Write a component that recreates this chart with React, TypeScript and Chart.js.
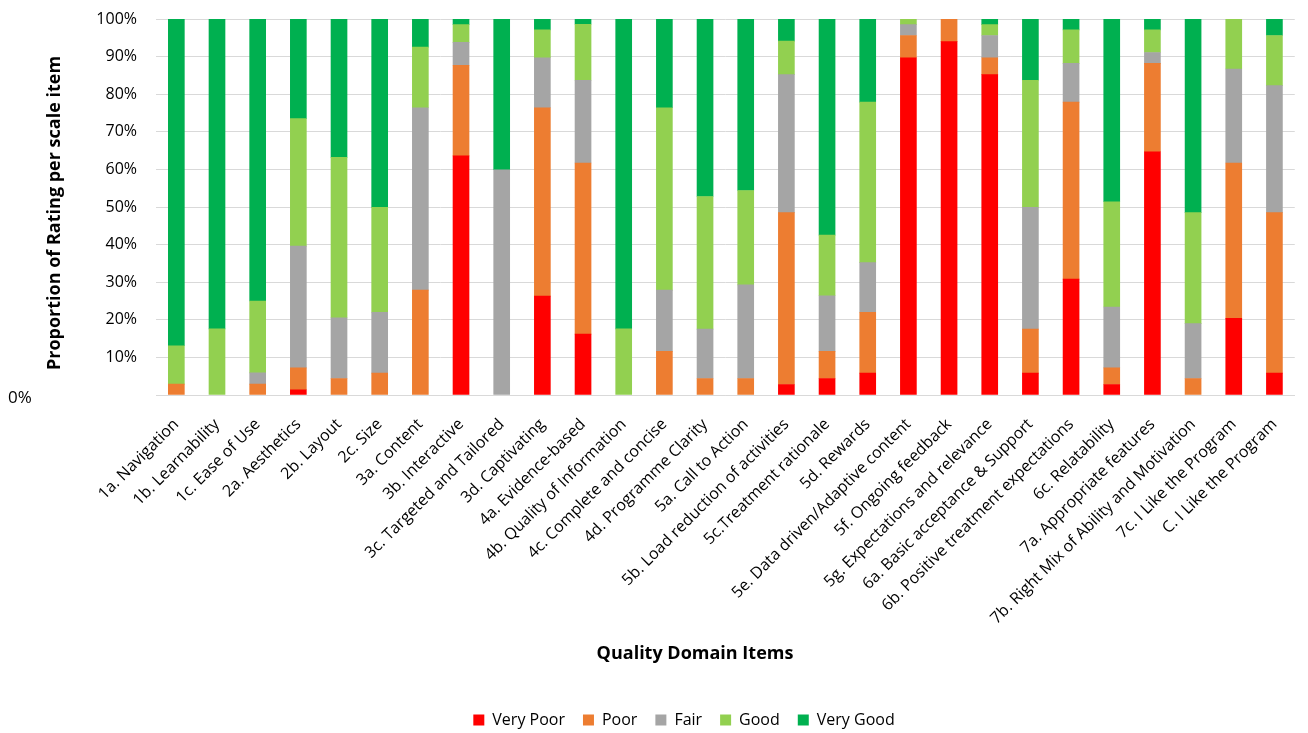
import React, { useEffect, useRef } from "react";
import { Chart, registerables } from "chart.js";

Chart.register(...registerables);

const categories = [
  "1a. Navigation",
  "1b. Learnability",
  "1c. Ease of Use",
  "2a. Aesthetics",
  "2b. Layout",
  "2c. Size",
  "3a. Content",
  "3b. Interactive",
  "3c. Targeted and Tailored",
  "3d. Captivating",
  "4a. Evidence-based",
  "4b. Quality of Information",
  "4c. Complete and concise",
  "4d. Programme Clarity",
  "5a. Call to Action",
  "5b. Load reduction of activities",
  "5c.Treatment rationale",
  "5d. Rewards",
  "5e. Data driven/Adaptive content",
  "5f. Ongoing feedback",
  "5g. Expectations and relevance",
  "6a. Basic acceptance & Support",
  "6b. Positive treatment expectations",
  "6c. Relatability",
  "7a. Appropriate features",
  "7b. Right Mix of Ability and Motivation",
  "7c. I Like the Program",
  "C. I Like the Program",
];

const veryPoor = [0, 0, 0, 1.4, 0, 0, 0, 63.6, 0, 26.3, 16.2, 0, 0, 0, 0, 2.8, 4.4, 5.8, 89.7, 94.0, 85.2, 5.8, 30.8, 2.8, 64.7, 0, 20.4, 5.8];
const poor = [2.9, 0, 2.9, 5.8, 4.4, 5.8, 27.9, 24.1, 0, 50.1, 45.5, 0, 11.6, 4.4, 4.4, 45.7, 7.2, 16.2, 5.9, 6.0, 4.5, 11.7, 47.1, 4.4, 23.5, 4.4, 41.3, 42.7];
const fair = [0, 0, 3.0, 32.4, 16.1, 16.2, 48.5, 6.1, 59.9, 13.3, 22.0, 0, 16.3, 13.1, 24.9, 36.7, 14.8, 13.2, 2.9, 0, 5.9, 32.4, 10.3, 16.2, 2.9, 14.6, 25.0, 33.8];
const good = [10.2, 17.6, 19.1, 33.9, 42.7, 27.9, 16.1, 4.7, 0, 7.4, 14.9, 17.6, 48.5, 35.3, 25.1, 8.9, 16.1, 42.7, 1.5, 0, 2.9, 33.8, 8.9, 28.0, 6.0, 29.5, 13.3, 13.3];
const veryGood = [86.9, 82.4, 75.0, 26.5, 36.8, 50.1, 7.5, 1.5, 40.1, 2.9, 1.4, 82.4, 23.6, 47.2, 45.6, 5.9, 57.5, 22.1, 0, 0, 1.5, 16.3, 2.9, 48.6, 2.9, 51.5, 0, 4.4];

const seriesNames = ["Very Poor", "Poor", "Fair", "Good", "Very Good"];
const seriesColors = ["#FF0000", "#ED7D31", "#A5A5A5", "#92D050", "#00B050"];
const yTickValues = [0, 10, 20, 30, 40, 50, 60, 70, 80, 90, 100];

const yTitle = "Proportion of Rating per scale item";
const xTitle = "Quality Domain Items";

const FONT = "'Open Sans', sans-serif";

const extraText = {
  id: "extraText",
  afterDraw(chart: any) {
    const ctx = chart.ctx;
    const yScale = chart.scales.y;
    ctx.save();
    ctx.fillStyle = "#000";
    ctx.font = `bold 18px ${FONT}`;
    ctx.textAlign = "center";
    ctx.textBaseline = "middle";
    ctx.save();
    ctx.translate(55, 213);
    ctx.rotate(-Math.PI / 2);
    ctx.fillText(yTitle, 0, 0);
    ctx.restore();
    ctx.font = `bold 18px ${FONT}`;
    ctx.fillText(xTitle, 695, 654);
    ctx.font = `17px ${FONT}`;
    ctx.textAlign = "left";
    ctx.fillText("0%", 8, yScale.getPixelForValue(0) + 3);
    ctx.restore();
  },
};

export default function App() {
  const ref = useRef<HTMLCanvasElement>(null);
  useEffect(() => {
    document.body.style.margin = "0";
    document.body.style.overflow = "hidden";
    const series = [veryPoor, poor, fair, good, veryGood];
    const chart = new Chart(ref.current!, {
      type: "bar",
      data: {
        labels: categories,
        datasets: series.map((d, i) => ({
          label: seriesNames[i],
          data: d.map((v) => (v === 0 ? null : v)),
          backgroundColor: seriesColors[i],
          borderWidth: 0,
          barThickness: 16,
        })),
      },
      plugins: [extraText],
      options: {
        animation: false,
        responsive: false,
        maintainAspectRatio: false,
        layout: { padding: { left: 60, top: 19, right: 0, bottom: -5 } },
        plugins: {
          legend: {
            position: "bottom",
            labels: {
              boxWidth: 11,
              boxHeight: 11,
              padding: 18,
              color: "#000",
              font: { family: FONT, size: 16 },
            },
          },
          tooltip: { enabled: false },
        },
        scales: {
          x: {
            stacked: true,
            grid: { display: false, drawTicks: false },
            border: { color: "#D9D9D9", width: 1 },
            ticks: {
              autoSkip: false,
              maxRotation: 45,
              minRotation: 45,
              padding: 20,
              color: "#000",
              font: { family: FONT, size: 16 },
            },
            afterFit(scale: any) {
              scale.height = 299;
            },
          },
          y: {
            stacked: true,
            min: 0,
            max: 100,
            afterBuildTicks(scale: any) {
              scale.ticks = yTickValues.map((v) => ({ value: v }));
            },
            grid: { color: "#D9D9D9", drawTicks: false, lineWidth: 1 },
            border: { display: false },
            ticks: {
              padding: 19,
              color: "#000",
              font: { family: FONT, size: 16 },
              callback: (v: any) => (v === 0 ? "" : v + "%"),
            },
            afterFit(scale: any) {
              scale.width = 96;
              scale.paddingTop = 9;
              scale.paddingBottom = 0;
            },
          },
        },
      },
    });
    return () => chart.destroy();
  }, []);
  return (
    <div style={{ width: 1308, height: 733 }}>
      <canvas ref={ref} width={1308} height={733} style={{ display: "block" }} />
    </div>
  );
}
